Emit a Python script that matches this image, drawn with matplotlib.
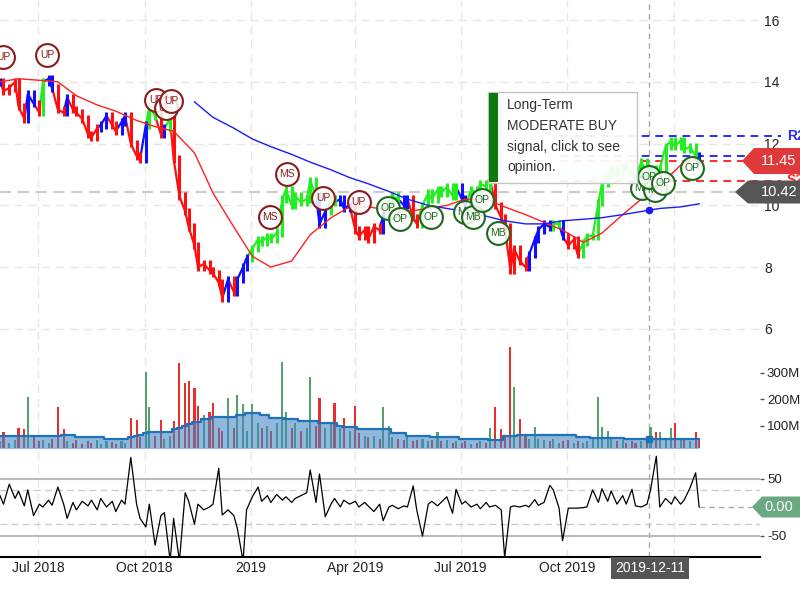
import numpy as np
import pandas as pd
import matplotlib
matplotlib.use('Agg')
import matplotlib.pyplot as plt
import matplotlib.dates as mdates
from matplotlib.patches import Rectangle, Polygon
from matplotlib.collections import LineCollection

plt.rcParams['font.family'] = ['Liberation Sans', 'DejaVu Sans']

# ---------------- data ----------------
start_date = '2018-05-29'
close = [14.0, 13.7, 13.8, 14.0, 13.2, 12.8, 13.6, 13.3, 13.0, 14.0,
         14.1, 13.8, 13.1, 13.0, 13.5, 13.1, 13.0, 12.8, 12.3, 12.2,
         12.5, 12.6, 12.9, 12.6, 12.4, 12.7, 12.9, 12.0, 11.6, 11.5,
         12.6, 13.2, 12.9, 12.3, 12.5, 12.8, 11.5, 10.3, 9.8, 9.3,
         8.7, 8.0, 8.1, 7.9, 7.8, 7.5, 7.0, 7.6, 7.2, 7.6,
         8.0, 8.3, 8.6, 8.9, 8.8, 9.0, 8.9, 9.1, 10.2, 10.5,
         10.0, 10.3, 10.1, 10.2, 10.8, 10.3, 9.4, 9.8, 10.2, 10.1,
         10.2, 9.9, 10.0, 9.2, 9.0, 9.2, 8.9, 9.3, 9.2, 9.7,
         10.1, 10.3, 10.2, 10.0, 10.2, 9.6, 9.4, 10.0, 10.4, 10.2,
         10.5, 10.4, 10.6, 10.3, 10.6, 10.2, 10.0, 10.5, 10.4, 10.7,
         10.6, 10.9, 10.0, 9.6, 9.3, 7.9, 8.6, 8.2, 8.0, 8.4,
         8.9, 9.2, 9.4, 9.3, 9.4, 9.4, 9.0, 8.7, 8.9, 8.4,
         8.8, 9.0, 9.0, 10.1, 10.7, 11.0, 11.2, 11.0, 11.3, 11.2,
         11.0, 10.9, 11.4, 11.1, 11.2, 10.9, 11.2, 11.9, 12.1, 11.9,
         12.1, 11.8, 11.9, 11.6, 11.45]

signal_runs = [('b', 1), ('r', 5), ('b', 2), ('r', 1), ('g', 1), ('b', 2), ('r', 2), ('b', 1),
               ('r', 6), ('b', 2), ('r', 2), ('b', 2), ('r', 3), ('b', 1), ('g', 2), ('r', 1),
               ('b', 1), ('g', 1), ('r', 11), ('b', 1), ('r', 1), ('b', 3), ('g', 14), ('b', 2),
               ('g', 2), ('b', 3), ('r', 6), ('b', 1), ('g', 3), ('b', 2), ('r', 2), ('g', 8),
               ('b', 2), ('g', 5), ('r', 7), ('b', 5), ('g', 2), ('b', 1), ('r', 3), ('g', 24),
               ('b', 1)]

volume_m = [40, 75, 35, 45, 90, 88, 207, 55, 40, 45,
            35, 50, 170, 85, 40, 35, 45, 30, 40, 35,
            45, 30, 40, 38, 30, 42, 35, 130, 120, 55,
            302, 170, 60, 120, 50, 60, 118, 336, 260, 268,
            240, 175, 140, 150, 186, 90, 80, 203, 90, 216,
            183, 80, 180, 110, 90, 100, 80, 110, 340, 150,
            90, 110, 80, 90, 283, 100, 205, 90, 110, 186,
            90, 130, 80, 175, 70, 60, 55, 60, 50, 170,
            100, 55, 50, 45, 55, 40, 45, 50, 40, 45,
            75, 40, 45, 35, 40, 35, 40, 30, 35, 40,
            35, 90, 170, 85, 60, 396, 245, 126, 60, 50,
            95, 50, 45, 40, 50, 35, 40, 45, 35, 40,
            35, 40, 50, 208, 95, 80, 50, 40, 45, 35,
            40, 35, 40, 45, 96, 75, 75, 50, 90, 110,
            50, 45, 40, 75, 45]

volume_avg_steps = [(60, 8), (62, 2), (60, 3), (65, 3), (58, 6), (48, 5), (56, 1), (60, 1),
                    (63, 1), (72, 1), (74, 1), (76, 1), (77, 3), (85, 1), (92, 1), (98, 1),
                    (104, 1), (113, 1), (115, 1), (124, 1), (126, 1), (132, 5), (140, 2),
                    (146, 3), (140, 2), (130, 3), (124, 3), (116, 4), (109, 4), (98, 1),
                    (96, 1), (95, 2), (87, 4), (85, 3), (72, 3), (60, 5), (57, 6), (49, 6),
                    (45, 3), (62, 3), (65, 12), (58, 3), (52, 7), (50, 16)]

oscillator = [20, 5, 40, 15, 28, 2, 30, -15, 5, 0,
              12, 3, 35, 5, -20, 8, -5, 10, 2, 12,
              -5, 15, 0, 10, -8, 12, 5, 87, 5, -20,
              -35, 5, -67, -15, -10, -95, -20, -95, 25, 10,
              -30, 5, -5, 0, 5, 68, -14, -5, -15, -37,
              -95, -5, 18, 35, 10, 20, 8, 22, 12, 18,
              8, 15, 20, 25, 65, 8, 58, -17, 5, 15,
              0, 12, 5, 10, 0, 8, 2, -8, 5, -24,
              0, 3, -3, 2, 0, 37, -5, -51, 5, 10,
              2, 8, 18, -11, 31, 5, 10, 0, 5, -3,
              8, 0, 3, -5, -89, 0, 2, 0, 3, 0,
              13, 3, 8, 38, 30, -2, -59, -2, -2, -2,
              -1, 0, 30, 8, 32, 10, 28, 5, 20, 5,
              31, 2, 0, 5, 30, 89, 0, 15, 5, 18,
              5, 12, 33, 60, 0]

# short moving average, every 4th bar
sma_short = [14.0, 14.1, 14.05, 14.0, 13.55, 13.25, 13.05, 12.75, 12.55, 12.4,
             11.7, 10.4, 9.3, 8.35, 8.0, 8.2, 9.05, 9.6, 9.95, 9.95,
             9.85, 9.8, 9.9, 10.0, 10.2, 10.2, 9.95, 9.7, 9.45, 9.2,
             8.8, 9.1, 9.7, 10.2, 10.65, 11.3, 11.5]
# long moving average, every 4th bar from bar 40
sma_long = [13.35, 12.85, 12.5, 12.15, 11.9, 11.65, 11.4, 11.15, 10.9, 10.7,
            10.45, 10.2, 10.0, 9.9, 9.8, 9.65, 9.5, 9.4, 9.4, 9.5,
            9.55, 9.6, 9.7, 9.8, 9.9, 9.95, 10.05]

levels = {'R2': 12.25, 'R1': 11.6, 'S1': 11.45, 'S2': 10.8}
ref_price = 10.42
last_price = 11.45
signal_date = '2019-12-11'

markers_date = ['2018-06-01', '2018-07-09', '2018-10-11', '2018-10-19', '2018-10-24',
                '2019-01-17', '2019-02-01', '2019-03-04', '2019-04-04', '2019-04-29',
                '2019-05-10', '2019-06-05', '2019-07-05', '2019-07-12', '2019-07-19',
                '2019-08-02', '2019-12-05', '2019-12-16', '2019-12-11', '2019-12-23',
                '2020-01-17']
markers_price = [14.8, 14.87, 13.41, 13.15, 13.38,
                 9.62, 11.02, 10.24, 10.11, 9.92,
                 9.56, 9.62, 9.79, 9.62, 10.17,
                 9.1, 10.56, 10.5, 10.92, 10.72,
                 11.21]
markers_label = ['UP', 'UP', 'UP', 'UP', 'UP',
                 'MS', 'MS', 'UP', 'UP', 'OP',
                 'OP', 'OP', 'MB', 'MB', 'OP',
                 'MB', 'MB', 'MB', 'OP', 'OP',
                 'OP']

xtick_dates = ['2018-07-01', '2018-10-01', '2019-01-01', '2019-04-01', '2019-07-01',
               '2019-10-01', '2020-01-01']
xtick_labels = ['Jul 2018', 'Oct 2018', '2019', 'Apr 2019', 'Jul 2019', 'Oct 2019', '2020']

# ---------------- layout helpers ----------------
N = len(close)
dates = pd.bdate_range(start_date, periods=N, freq='3B')
xd = mdates.date2num(dates)
X0 = mdates.date2num(pd.Timestamp(start_date))
PXD = 1.1575
def xpx(px):
    return X0 + px / PXD
def fx(px):
    return px / 800.0
def fy(py):
    return 1 - py / 600.0

fig = plt.figure(figsize=(8, 6), dpi=100)
ax = fig.add_axes([0, fy(340), fx(760), 340 / 600])
axv = fig.add_axes([0, fy(448), fx(760), 108 / 600])
axo = fig.add_axes([0, fy(557), fx(760), 107 / 600])

grid_c = '#e6e6e6'
xt = mdates.date2num(pd.to_datetime(xtick_dates))
sig_x = mdates.date2num(pd.Timestamp(signal_date))
for a in (ax, axv, axo):
    a.set_xlim(X0, xpx(760))
    for s in a.spines.values():
        s.set_visible(False)
    for t in xt:
        a.axvline(t, color=grid_c, lw=1, ls=(0, (6, 4)), zorder=0)
    a.axvline(sig_x, color='#aaaaaa', lw=1, ls=(0, (4, 3)), zorder=1)
    a.set_xticks([])
    a.set_facecolor('none')

# ---------------- price panel ----------------
ax.set_ylim(5.64, 16.65)
for v in [6, 8, 10, 12, 14, 16]:
    ax.axhline(v, color=grid_c, lw=1, ls=(0, (6, 4)), zorder=0)
ax.yaxis.tick_right()
ax.set_yticks([6, 8, 10, 12, 14, 16])
ax.tick_params(axis='y', length=0, pad=3, labelsize=10, labelcolor='#222222')

ax.plot([X0, xpx(742)], [ref_price, ref_price], color='#cccccc', lw=1.6,
        ls=(0, (5, 3)), zorder=1, clip_on=False)

cmap = {'r': '#ff1010', 'b': '#1010ff', 'g': '#22ee22'}
bar_colors = []
for c, n in signal_runs:
    bar_colors += [cmap[c]] * n
bar_colors = bar_colors[:N]
closes = np.array(close)
prev = np.concatenate([[closes[0]], closes[:-1]])
segs = [[(xd[i - 1], closes[i - 1]), (xd[i], closes[i])] for i in range(1, N)]
ax.add_collection(LineCollection(segs, colors=bar_colors[1:], linewidths=1.6, zorder=3))
ax.vlines(xd, np.minimum(prev, closes) - 0.12, np.maximum(prev, closes) + 0.12,
          colors=bar_colors, lw=2.2, zorder=3)

ax.plot(xd[::4][:len(sma_short)], sma_short, color='#ff2020', lw=1, zorder=4)
ax.plot(xd[40::4][:len(sma_long)], sma_long, color='#1a1aff', lw=1, zorder=4)
ax.plot([sig_x], [np.interp(sig_x, xd[40::4][:len(sma_long)], sma_long)], 'o',
        color='#1a1aff', ms=4.5, zorder=5)
ax.plot([sig_x], [np.interp(sig_x, xd[::4][:len(sma_short)], sma_short)], 'o',
        color='#ff2020', ms=3, zorder=5)

for name, val in levels.items():
    col = '#2a2aff' if name.startswith('R') else '#ff2a2a'
    ax.plot([xpx(560), xpx(781)], [val, val], color=col, lw=1.4, ls=(0, (4, 3)),
            zorder=2, clip_on=False)

for k, (d, p, lab) in enumerate(zip(markers_date, markers_price, markers_label)):
    mx = mdates.date2num(pd.Timestamp(d))
    if lab in ('UP', 'MS'):
        ec = '#8a1c1c'
    else:
        ec = '#1d6a1d'
    ax.scatter([mx], [p], s=270, facecolors=[(1, 1, 1, 0.85)], edgecolors=ec,
               linewidths=1.5, zorder=6 + k * 0.01, clip_on=False)
    ax.text(mx, p, lab, ha='center', va='center', fontsize=7.5, color=ec,
            zorder=6.005 + k * 0.01)

# ---------------- volume panel ----------------
vol = np.array(volume_m, dtype=float)
vcols = ['#56a06e' if closes[i] >= prev[i] else '#e8302a' for i in range(N)]
axv.bar(xd, vol, width=1.8, color=vcols, zorder=2)
vavg = []
for v, n in volume_avg_steps:
    vavg += [v] * n
vavg = np.array(vavg[:N], dtype=float)
axv.fill_between(xd, 0, vavg, step='mid', color='#3f86c4', alpha=0.58, zorder=3, lw=0)
axv.step(xd, vavg, where='mid', color='#1f72b8', lw=1.6, zorder=4)
axv.plot([sig_x], [np.interp(sig_x, xd, vavg)], 's', color='#1f72b8', ms=5, zorder=5)
axv.set_ylim(15, 423)
axv.yaxis.tick_right()
axv.set_yticks([100, 200, 300])
axv.set_yticklabels(['100M', '200M', '300M'])
axv.tick_params(axis='y', length=3, width=1, color='#555555', pad=2, labelsize=9.5,
                labelcolor='#222222')

# ---------------- oscillator panel ----------------
axo.set_ylim(-87.7, 100)
axo.axhline(50, color='#bbbbbb', lw=1.5, zorder=1)
axo.axhline(-50, color='#bbbbbb', lw=1.5, zorder=1)
axo.axhline(30, color='#cccccc', lw=1, ls=(0, (5, 3)), zorder=1)
axo.axhline(-30, color='#cccccc', lw=1, ls=(0, (5, 3)), zorder=1)
axo.plot(xd, oscillator, color='black', lw=0.9, zorder=3)
axo.plot([xd[-1], xpx(752)], [oscillator[-1], oscillator[-1]], color='#aaaaaa', lw=1,
         ls=(0, (4, 3)), clip_on=False)
axo.spines['bottom'].set_visible(True)
axo.spines['bottom'].set_linewidth(1.5)
axo.spines['bottom'].set_color('black')
axo.yaxis.tick_right()
axo.set_yticks([-50, 50])
axo.set_yticklabels(['-50', '50'])
axo.tick_params(axis='y', length=3, width=1, color='#555555', pad=2, labelsize=9.5,
                labelcolor='#222222')
axo.set_xticks(xt)
axo.set_xticklabels(xtick_labels)
axo.tick_params(axis='x', length=0, pad=3, labelsize=10, labelcolor='#222222')

# ---------------- overlays ----------------
fig.add_artist(Rectangle((fx(488), fy(183)), fx(637) - fx(488), fy(92) - fy(183),
                         transform=fig.transFigure, facecolor=(1, 1, 1, 0.93),
                         edgecolor='#c4c4c4', lw=1, zorder=10))
fig.add_artist(Rectangle((fx(488.5), fy(182)), fx(498) - fx(488.5), fy(93) - fy(182),
                         transform=fig.transFigure, facecolor='#0b7a0b',
                         edgecolor='none', zorder=11))
fig.text(fx(507), fy(98), 'Long-Term\nMODERATE BUY\nsignal, click to see\nopinion.',
         ha='left', va='top', fontsize=10, color='#333333', linespacing=1.62, zorder=12)

fig.text(fx(787), fy(136), 'R2', color='#2a2aff', fontsize=10, fontweight='bold',
         ha='left', va='center', zorder=12)
fig.text(fx(787), fy(155), 'R1', color='#2a2aff', fontsize=10, fontweight='bold',
         ha='left', va='center', zorder=12)
fig.text(fx(787), fy(180), 'S2', color='#ff2a2a', fontsize=10, fontweight='bold',
         ha='left', va='center', zorder=12)

def tag(tip_x, yc, half, body_x, color, text):
    pts = [(fx(tip_x), fy(yc)), (fx(body_x), fy(yc - half)), (fx(800), fy(yc - half)),
           (fx(800), fy(yc + half)), (fx(body_x), fy(yc + half))]
    fig.add_artist(Polygon(pts, closed=True, transform=fig.transFigure,
                           facecolor=color, edgecolor='none', zorder=20))
    fig.text(fx(779), fy(yc), text, color='white', fontsize=10.5, ha='center',
             va='center', zorder=21)

tag(742, 161, 13, 754, '#e0393b', f'{last_price:.2f}')
tag(735, 192, 11.5, 748, '#555555', f'{ref_price:.2f}')
tag(752, 507, 10.5, 762, '#6aa982', f'{oscillator[-1]:.2f}')

fig.text(fx(650), fy(568), signal_date, ha='center', va='center', color='white',
         fontsize=10, zorder=25,
         bbox=dict(boxstyle='square,pad=0.3', fc='#555555', ec='none'))

fig.savefig('out.png', dpi=100)
